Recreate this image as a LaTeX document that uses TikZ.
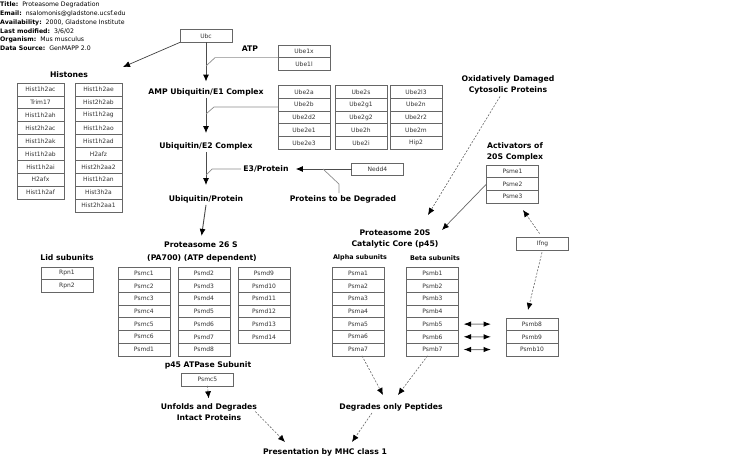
\documentclass[tikz,border=0pt]{standalone}
\usepackage{fontspec}
\setmainfont{DejaVu Sans}
\usetikzlibrary{arrows.meta,positioning}

\begin{document}
\begin{tikzpicture}[x=1pt,y=-1pt,
  node distance=0pt,
  gene/.style={draw=black!60,line width=0.6pt,fill=white,minimum width=52pt,minimum height=12.7pt,inner sep=0pt,outer sep=0pt,text=black!80,font=\fontsize{6}{7}\selectfont},
  hist/.style={gene,minimum width=47pt,minimum height=12.9pt},
  lbl/.style={font=\fontsize{7.7}{11}\selectfont\bfseries,align=center,inner sep=2pt},
  sublbl/.style={font=\fontsize{6.4}{8}\selectfont\bfseries,inner sep=1pt},
  arr/.style={draw=black!70,line width=0.9pt,-{Latex[length=7pt,width=6pt,color=black]}},
  darr/.style={arr,draw=black!60,line width=0.6pt,dash pattern=on 2pt off 1.5pt},
  barr/.style={arr,draw=black!50,line width=1pt,{Latex[length=7.5pt,width=5.5pt,color=black]}-{Latex[length=7.5pt,width=5.5pt,color=black]}},
  link/.style={draw=black!45,line width=0.7pt}]
  \useasboundingbox (0,0) rectangle (756,468);
  % header
  \begin{scope}
    \clip (0,0) rectangle (128,60);
    \node[anchor=north west,inner sep=0pt,align=left,font=\fontsize{6.2}{8.7}\selectfont] (info) at (0,2) {\textbf{Title:}\ \ Proteasome Degradation\\
      \textbf{Email:}\ \ nsalomonis@gladstone.ucsf.edu\\
      \textbf{Availability:}\ \ 2000, Gladstone Institute\\
      \textbf{Last modified:}\ \ 3/6/02\\
      \textbf{Organism:}\ \ Mus musculus\\
      \textbf{Data Source:}\ \ GenMAPP 2.0};
  \end{scope}
  % ubiquitin chain
  \node[gene] (ubc) at (206,36) {Ubc};
  \node[lbl] (atp) at (250,49) {ATP};
  \node[gene] (ube1x) at (304,51.3) {Ube1x};
  \node[gene,below=of ube1x] (ube1l) {Ube1l};
  \node[lbl] (amp) at (206,92) {AMP Ubiquitin/E1 Complex};
  \node[gene] (ube2a) at (304,92) {Ube2a};
  \node[gene,below=of ube2a] (ube2b) {Ube2b};
  \node[gene,below=of ube2b] (ube2d2) {Ube2d2};
  \node[gene,below=of ube2d2] (ube2e1) {Ube2e1};
  \node[gene,below=of ube2e1] (ube2e3) {Ube2e3};
  \node[gene] (ube2s) at (361,92) {Ube2s};
  \node[gene,below=of ube2s] (ube2g1) {Ube2g1};
  \node[gene,below=of ube2g1] (ube2g2) {Ube2g2};
  \node[gene,below=of ube2g2] (ube2h) {Ube2h};
  \node[gene,below=of ube2h] (ube2i) {Ube2i};
  \node[gene] (ube2l3) at (416,92) {Ube2l3};
  \node[gene,below=of ube2l3] (ube2n) {Ube2n};
  \node[gene,below=of ube2n] (ube2r2) {Ube2r2};
  \node[gene,below=of ube2r2] (ube2m) {Ube2m};
  \node[gene,below=of ube2m] (hip2) {Hip2};
  \node[lbl] (e2) at (206,146) {Ubiquitin/E2 Complex};
  \node[lbl] (e3) at (266,169) {E3/Protein};
  \node[gene,minimum height=12pt] (nedd4) at (377.5,169) {Nedd4};
  \node[lbl] (ubprot) at (206,199) {Ubiquitin/Protein};
  \node[lbl] (degr) at (343,199) {Proteins to be Degraded};
  % histones
  \node[lbl] (histones) at (69,75) {Histones};
  \node[hist] (ha1) at (40.5,89.45) {Hist1h2ac};
  \node[hist,below=of ha1] (ha2) {Trim17};
  \node[hist,below=of ha2] (ha3) {Hist1h2ah};
  \node[hist,below=of ha3] (ha4) {Hist2h2ac};
  \node[hist,below=of ha4] (ha5) {Hist1h2ak};
  \node[hist,below=of ha5] (ha6) {Hist1h2ab};
  \node[hist,below=of ha6] (ha7) {Hist1h2ai};
  \node[hist,below=of ha7] (ha8) {H2afx};
  \node[hist,below=of ha8] (ha9) {Hist1h2af};
  \node[hist] (hb1) at (98.5,89.45) {Hist1h2ae};
  \node[hist,below=of hb1] (hb2) {Hist2h2ab};
  \node[hist,below=of hb2] (hb3) {Hist1h2ag};
  \node[hist,below=of hb3] (hb4) {Hist1h2ao};
  \node[hist,below=of hb4] (hb5) {Hist1h2ad};
  \node[hist,below=of hb5] (hb6) {H2afz};
  \node[hist,below=of hb6] (hb7) {Hist2h2aa2};
  \node[hist,below=of hb7] (hb8) {Hist1h2an};
  \node[hist,below=of hb8] (hb9) {Hist3h2a};
  \node[hist,below=of hb9] (hb10) {Hist2h2aa1};
  % proteasome 26S
  \node[lbl] (p26) at (201,245) {Proteasome 26 S};
  \node[lbl] (pa700) at (202,258) {(PA700) (ATP dependent)};
  \node[lbl] (lid) at (67,258) {Lid subunits};
  \node[gene] (rpn1) at (67,273.3) {Rpn1};
  \node[gene,below=of rpn1] (rpn2) {Rpn2};
  \node[gene] (psmc1) at (144,273.3) {Psmc1};
  \node[gene,below=of psmc1] (psmc2) {Psmc2};
  \node[gene,below=of psmc2] (psmc3) {Psmc3};
  \node[gene,below=of psmc3] (psmc4) {Psmc4};
  \node[gene,below=of psmc4] (psmc5) {Psmc5};
  \node[gene,below=of psmc5] (psmc6) {Psmc6};
  \node[gene,below=of psmc6] (psmd1) {Psmd1};
  \node[gene] (psmd2) at (204,273.3) {Psmd2};
  \node[gene,below=of psmd2] (psmd3) {Psmd3};
  \node[gene,below=of psmd3] (psmd4) {Psmd4};
  \node[gene,below=of psmd4] (psmd5) {Psmd5};
  \node[gene,below=of psmd5] (psmd6) {Psmd6};
  \node[gene,below=of psmd6] (psmd7) {Psmd7};
  \node[gene,below=of psmd7] (psmd8) {Psmd8};
  \node[gene] (psmd9) at (264,273.3) {Psmd9};
  \node[gene,below=of psmd9] (psmd10) {Psmd10};
  \node[gene,below=of psmd10] (psmd11) {Psmd11};
  \node[gene,below=of psmd11] (psmd12) {Psmd12};
  \node[gene,below=of psmd12] (psmd13) {Psmd13};
  \node[gene,below=of psmd13] (psmd14) {Psmd14};
  \node[lbl] (p45) at (208,365) {p45 ATPase Subunit};
  \node[gene] (atpase) at (207.5,379.5) {Psmc5};
  \node[lbl] (unfold) at (209,412.5) {Unfolds and Degrades\\Intact Proteins};
  % proteasome 20S
  \node[lbl] (oxid) at (508,85) {Oxidatively Damaged\\Cytosolic Proteins};
  \node[lbl] (act) at (515,151.5) {Activators of\\20S Complex};
  \node[gene] (psme1) at (512.5,171.3) {Psme1};
  \node[gene,below=of psme1] (psme2) {Psme2};
  \node[gene,below=of psme2] (psme3) {Psme3};
  \node[gene] (ifng) at (542.5,244) {Ifng};
  \node[lbl] (core20) at (395,238.5) {Proteasome 20S\\Catalytic Core (p45)};
  \node[sublbl] (alpha) at (360,258) {Alpha subunits};
  \node[sublbl] (beta) at (435,258) {Beta subunits};
  \node[gene] (psma1) at (358,273.3) {Psma1};
  \node[gene,below=of psma1] (psma2) {Psma2};
  \node[gene,below=of psma2] (psma3) {Psma3};
  \node[gene,below=of psma3] (psma4) {Psma4};
  \node[gene,below=of psma4] (psma5) {Psma5};
  \node[gene,below=of psma5] (psma6) {Psma6};
  \node[gene,below=of psma6] (psma7) {Psma7};
  \node[gene] (psmb1) at (432.5,273.3) {Psmb1};
  \node[gene,below=of psmb1] (psmb2) {Psmb2};
  \node[gene,below=of psmb2] (psmb3) {Psmb3};
  \node[gene,below=of psmb3] (psmb4) {Psmb4};
  \node[gene,below=of psmb4] (psmb5) {Psmb5};
  \node[gene,below=of psmb5] (psmb6) {Psmb6};
  \node[gene,below=of psmb6] (psmb7) {Psmb7};
  \node[gene] (psmb8) at (532,324.15) {Psmb8};
  \node[gene,below=of psmb8] (psmb9) {Psmb9};
  \node[gene,below=of psmb9] (psmb10) {Psmb10};
  \node[lbl] (degpep) at (391,407) {Degrades only Peptides};
  \node[lbl] (mhc) at (325,452) {Presentation by MHC class 1};
  % free ends
  \coordinate (histin) at (123,67);
  \coordinate (j1) at (206,66);
  \coordinate (j2) at (206,114);
  \coordinate (j3) at (206,175);
  \coordinate (j4) at (323,169);
  \coordinate (c20a) at (428,215);
  \coordinate (c20b) at (442,230);
  \coordinate (psin) at (523,210);
  \coordinate (pbin) at (528,310);
  \coordinate (dpl) at (383,395);
  \coordinate (dpr) at (398,395);
  \coordinate (mhcl) at (285,442);
  \coordinate (mhcr) at (352,442);
  % connectors
  \draw[arr,draw=black!75,line width=0.7pt] (ubc.south west) -- (histin);
  \draw[arr,shorten >=4.5pt] (ubc.south) -- (amp.north);
  \draw[link] (ube1x.south west) -- ++(-63,0) -- (j1);
  \draw[arr,shorten >=7pt] (amp.south) -- (e2.north);
  \draw[link] ([yshift=-2.3pt]ube2b.west) -- ++(-64,0) -- (j2);
  \draw[arr,shorten >=8pt] (e2.south) -- (ubprot.north);
  \draw[link] (e3.west) -- ++(-29,0) -- (j3);
  \draw[arr,shorten >=5pt] (nedd4.west) -- (e3.east);
  \draw[link] ([xshift=-4pt]degr.north) -- ++(0,-9) -- (j4);
  \draw[arr,shorten >=4pt] (ubprot.south) -- (p26.north);
  \draw[darr,shorten >=3.5pt] (atpase.south) -- (unfold.north);
  \draw[darr] ([shift={(-4pt,1pt)}]unfold.east) -- (mhcl);
  \draw[darr] ([xshift=-19pt]degpep.south) -- (mhcr);
  \draw[darr] ([xshift=4pt]psma7.south) -- (dpl);
  \draw[darr] ([xshift=-5pt]psmb7.south) -- (dpr);
  \draw[darr] ([xshift=-8pt]oxid.south) -- (c20a);
  \draw[arr,draw=black!60,line width=0.7pt] (psme2.west) -- (c20b);
  \draw[darr,shorten <=5pt] (ifng.north) -- (psin);
  \draw[darr,shorten <=2pt] (ifng.south) -- (pbin);
  \draw[barr,shorten <=5pt,shorten >=15pt] (psmb5.east) -- (psmb8.west);
  \draw[barr,shorten <=5pt,shorten >=15pt] (psmb6.east) -- (psmb9.west);
  \draw[barr,shorten <=5pt,shorten >=15pt] (psmb7.east) -- (psmb10.west);
\end{tikzpicture}
\end{document}
